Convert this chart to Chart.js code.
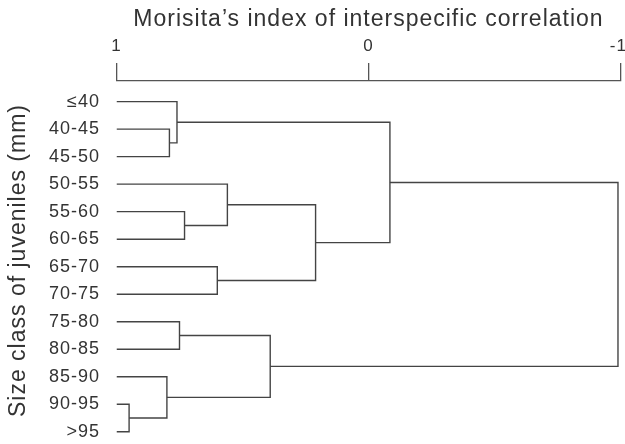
<!DOCTYPE html>
<html>
<head>
<meta charset="utf-8">
<script src="https://cdn.jsdelivr.net/npm/chart.js@4.4.1/dist/chart.umd.min.js"></script>
<style>
  html, body { margin: 0; padding: 0; background: #fff; overflow: hidden; }
  canvas { display: block; }
</style>
</head>
<body>
<canvas id="dendro" width="625" height="444"></canvas>
<script>
// --- Data ---
const sizeClasses = ['≤40', '40-45', '45-50', '50-55', '55-60', '60-65', '65-70',
                     '70-75', '75-80', '80-85', '85-90', '90-95', '>95'];
const xTicks = [1, 0, -1];

// merges: node ids 0..12 are leaves, merge k creates node 13 + k
const mergeLeft  = [1, 0, 4, 3, 6, 16, 14, 11, 10, 8, 22, 19];
const mergeRight = [2, 13, 5, 15, 7, 17, 18, 12, 20, 9, 21, 23];
const mergeIndex = [0.79, 0.76, 0.73, 0.56, 0.60, 0.21, -0.085, 0.95, 0.80, 0.75, 0.39, -0.99];

// --- Build dendrogram segments ---
const nodeX = sizeClasses.map(() => 1);
const nodeY = sizeClasses.map((_, i) => i);
const datasets = [];
mergeIndex.forEach((h, k) => {
    const a = mergeLeft[k], b = mergeRight[k];
    datasets.push({
        data: [
            { x: nodeX[a], y: nodeY[a] },
            { x: h, y: nodeY[a] },
            { x: h, y: nodeY[b] },
            { x: nodeX[b], y: nodeY[b] }
        ],
        showLine: true,
        borderColor: '#444',
        borderWidth: 1.4,
        pointRadius: 0,
        fill: false
    });
    nodeX.push(h);
    nodeY.push((nodeY[a] + nodeY[b]) / 2);
});

const FONT = 'Liberation Sans, Arial, Helvetica, sans-serif';

// slightly wider glyph spacing, like the original typeset figure
const spacing = {
    id: 'spacing',
    beforeUpdate(chart) { chart.ctx.letterSpacing = '1px'; },
    beforeDraw(chart) { chart.ctx.letterSpacing = '1px'; }
};

new Chart(document.getElementById('dendro').getContext('2d'), {
    type: 'scatter',
    data: { datasets },
    options: {
        responsive: false,
        animation: false,
        layout: { padding: { top: 0, right: 4.5, bottom: 4, left: 0 } },
        plugins: { legend: { display: false }, tooltip: { enabled: false } },
        scales: {
            x: {
                type: 'linear',
                position: 'top',
                reverse: true,
                min: -1,
                max: 1,
                afterBuildTicks: (scale) => { scale.ticks = xTicks.map(v => ({ value: v })); },
                afterFit: (scale) => {
                    scale.height = 81;
                    scale.paddingLeft = 0;
                    scale.paddingRight = 0;
                },
                ticks: {
                    color: '#333',
                    font: { family: FONT, size: 17 },
                    padding: 6,
                    // thin space keeps the -1 label inside the canvas edge
                    callback: (v) => v < 0 ? '-' + Math.abs(v) + '\u2009' : String(v)
                },
                grid: { drawOnChartArea: false, drawTicks: true, tickLength: 18, color: '#555', lineWidth: 1.3 },
                border: { display: true, color: '#555', width: 1.3 },
                title: {
                    display: true,
                    text: 'Morisita\u2019s index of interspecific correlation',
                    color: '#333',
                    font: { family: FONT, size: 23 },
                    padding: { top: 6, bottom: 0 }
                }
            },
            y: {
                type: 'linear',
                reverse: true,
                min: -0.75,
                max: 12.3,
                afterBuildTicks: (scale) => { scale.ticks = sizeClasses.map((_, i) => ({ value: i })); },
                afterFit: (scale) => {
                    scale.width = 116.5;
                    scale.paddingTop = 0;
                    scale.paddingBottom = 0;
                },
                ticks: {
                    color: '#333',
                    font: { family: FONT, size: 18 },
                    padding: 16.5,
                    callback: (v) => sizeClasses[v]
                },
                grid: { display: false, drawTicks: false },
                border: { display: false },
                title: {
                    display: true,
                    text: 'Size class of juveniles (mm)',
                    color: '#333',
                    font: { family: FONT, size: 23 },
                    padding: { top: 4.5, bottom: 0 }
                }
            }
        }
    },
    plugins: [spacing]
});
</script>
</body>
</html>
